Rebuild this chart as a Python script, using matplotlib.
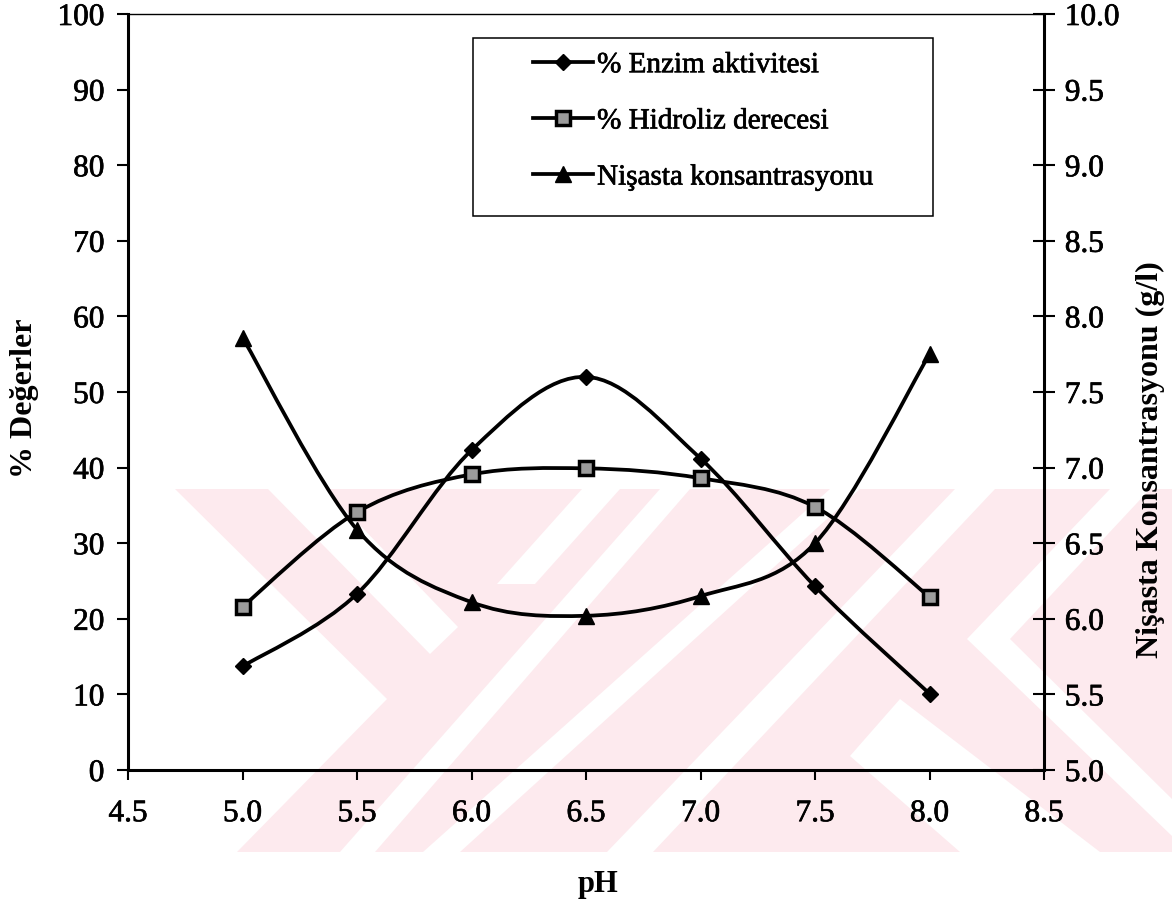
import numpy as np
import matplotlib
matplotlib.use('Agg')
import matplotlib.pyplot as plt
import matplotlib.patheffects as pe
from matplotlib.path import Path
from matplotlib.patches import PathPatch, Polygon, Rectangle
from matplotlib.lines import Line2D
from matplotlib.ticker import MultipleLocator, FormatStrFormatter

plt.rcParams['font.family'] = ['Liberation Serif', 'DejaVu Serif']

# pH series and measured values
ph = [5.0, 5.5, 6.0, 6.5, 7.0, 7.5, 8.0]
enzim = [13.7, 23.3, 42.3, 52.0, 41.2, 24.3, 10.1]       # % enzim aktivitesi
hidroliz = [21.6, 34.1, 39.1, 39.9, 38.6, 34.8, 22.9]    # % hidroliz derecesi
nisasta = [7.86, 6.59, 6.11, 6.02, 6.15, 6.50, 7.75]     # g/l, right axis

labels = ['% Enzim aktivitesi', '% Hidroliz derecesi', 'Nişasta konsantrasyonu']

W, H = 1172, 903
line_width = 2.7
heavy = [pe.withStroke(linewidth=0.5, foreground='k')]


def smooth_path(x, y):
    # smoothed line like excel: bezier segments with catmull-rom handles
    pts = np.column_stack([x, y]).astype(float)
    n = len(pts)
    verts = [pts[0]]
    codes = [Path.MOVETO]
    for i in range(n - 1):
        p0 = pts[max(i - 1, 0)]
        p1 = pts[i]
        p2 = pts[i + 1]
        p3 = pts[min(i + 2, n - 1)]
        verts += [p1 + (p2 - p0) / 6, p2 - (p3 - p1) / 6, p2]
        codes += [Path.CURVE4] * 3
    return Path(verts, codes)


def px(pts):
    return [(x / W, 1 - y / H) for x, y in pts]


fig = plt.figure(figsize=(W / 100, H / 100), dpi=100)

# background stamp (pink bands)
pink = '#fdeaee'
wm_base = [(175, 490), (1172, 490), (1172, 853), (237, 853), (387, 700)]
wm_gaps = [
    [(268, 490), (325, 490), (458, 628), (430, 655)],
    [(497, 585), (535, 585), (620, 490), (582, 490)],
    [(340, 853), (375, 853), (690, 490), (660, 490)],
    [(423, 853), (460, 853), (860, 490), (830, 490)],
    [(607, 853), (653, 853), (995, 490), (955, 490)],
    [(850, 757), (900, 700), (1100, 853), (960, 853)],
    [(967, 640), (1010, 640), (1150, 490), (1110, 490)],
    [(967, 640), (1010, 640), (1172, 800), (1172, 837)],
]
fig.patches.append(Polygon(px(wm_base), closed=True, transform=fig.transFigure,
                           facecolor=pink, edgecolor='none', zorder=-2))
for g in wm_gaps:
    fig.patches.append(Polygon(px(g), closed=True, transform=fig.transFigure,
                               facecolor='white', edgecolor='none', zorder=-1))

ax = fig.add_axes([128 / W, 1 - 771 / H, 916 / W, 756 / H])
ax.patch.set_visible(False)
ax2 = ax.twinx()

# curves
ax.add_patch(PathPatch(smooth_path(ph, enzim), fill=False, edgecolor='k',
                       lw=line_width, transform=ax.transData, zorder=2))
ax.add_patch(PathPatch(smooth_path(ph, hidroliz), fill=False, edgecolor='k',
                       lw=line_width, transform=ax.transData, zorder=2))
ax2.add_patch(PathPatch(smooth_path(ph, nisasta), fill=False, edgecolor='k',
                        lw=line_width, transform=ax2.transData, zorder=2))

d_style = dict(marker='D', ms=8.5, mfc='k', mec='k', mew=1)
s_style = dict(marker='s', ms=10, mfc='#9c9c9c', mec='k', mew=2.5)
t_style = dict(marker='^', ms=12, mfc='k', mec='k', mew=1)
ax.plot(ph, enzim, ls='none', zorder=3, **d_style)
ax.plot(ph, hidroliz, ls='none', zorder=3, **s_style)
ax2.plot(ph, nisasta, ls='none', zorder=3, **t_style)

# axes
ax.set_xlim(4.5, 8.5)
ax.set_ylim(0, 100)
ax2.set_ylim(5, 10)
ax.xaxis.set_major_locator(MultipleLocator(0.5))
ax.xaxis.set_major_formatter(FormatStrFormatter('%.1f'))
ax.yaxis.set_major_locator(MultipleLocator(10))
ax2.yaxis.set_major_locator(MultipleLocator(0.5))
ax2.yaxis.set_major_formatter(FormatStrFormatter('%.1f'))

ax.tick_params(axis='y', direction='out', length=8, width=1.5, pad=9, labelsize=22.5, right=False)
ax.tick_params(axis='x', direction='out', length=7, width=1.5, pad=14, labelsize=22.5, top=False)
ax2.tick_params(axis='y', direction='inout', length=16, width=1.5, pad=7, labelsize=22.5)
for lbl in ax.get_xticklabels() + ax.get_yticklabels() + ax2.get_yticklabels():
    lbl.set_path_effects(heavy)

for s in ['left', 'bottom']:
    ax.spines[s].set_linewidth(2.2)
ax.spines['top'].set_linewidth(1.0)
ax.spines['right'].set_visible(False)
for s in ['left', 'bottom', 'top']:
    ax2.spines[s].set_visible(False)
ax2.spines['right'].set_linewidth(2.2)

ax.set_xlabel('pH', fontsize=22, fontweight='bold')
ax.xaxis.set_label_coords(0.513, -0.131)
ax.set_ylabel('% Değerler', fontsize=23, fontweight='bold')
ax.yaxis.set_label_coords(-0.097, 0.493)
ax2.set_ylabel('Nişasta Konsantrasyonu (g/l)', fontsize=23, fontweight='bold')
ax2.yaxis.set_label_coords(1.1004, 0.412)

# legend
handles = [Line2D([], [], color='k', lw=line_width, **d_style),
           Line2D([], [], color='k', lw=line_width, **s_style),
           Line2D([], [], color='k', lw=line_width, **t_style)]
leg = ax2.legend(handles, labels, loc='upper left', bbox_to_anchor=(0.442, 0.950),
                 frameon=False, fontsize=21, handlelength=2.05, handletextpad=0.15,
                 labelspacing=1.02, borderpad=0, borderaxespad=0)
for t in leg.get_texts():
    t.set_path_effects(heavy)
ax2.add_patch(Rectangle((0.3766, 0.7325), 0.502, 0.2358, transform=ax2.transAxes,
                        fill=False, edgecolor='k', lw=1.1, zorder=5))

fig.savefig('out.png', dpi=100)
